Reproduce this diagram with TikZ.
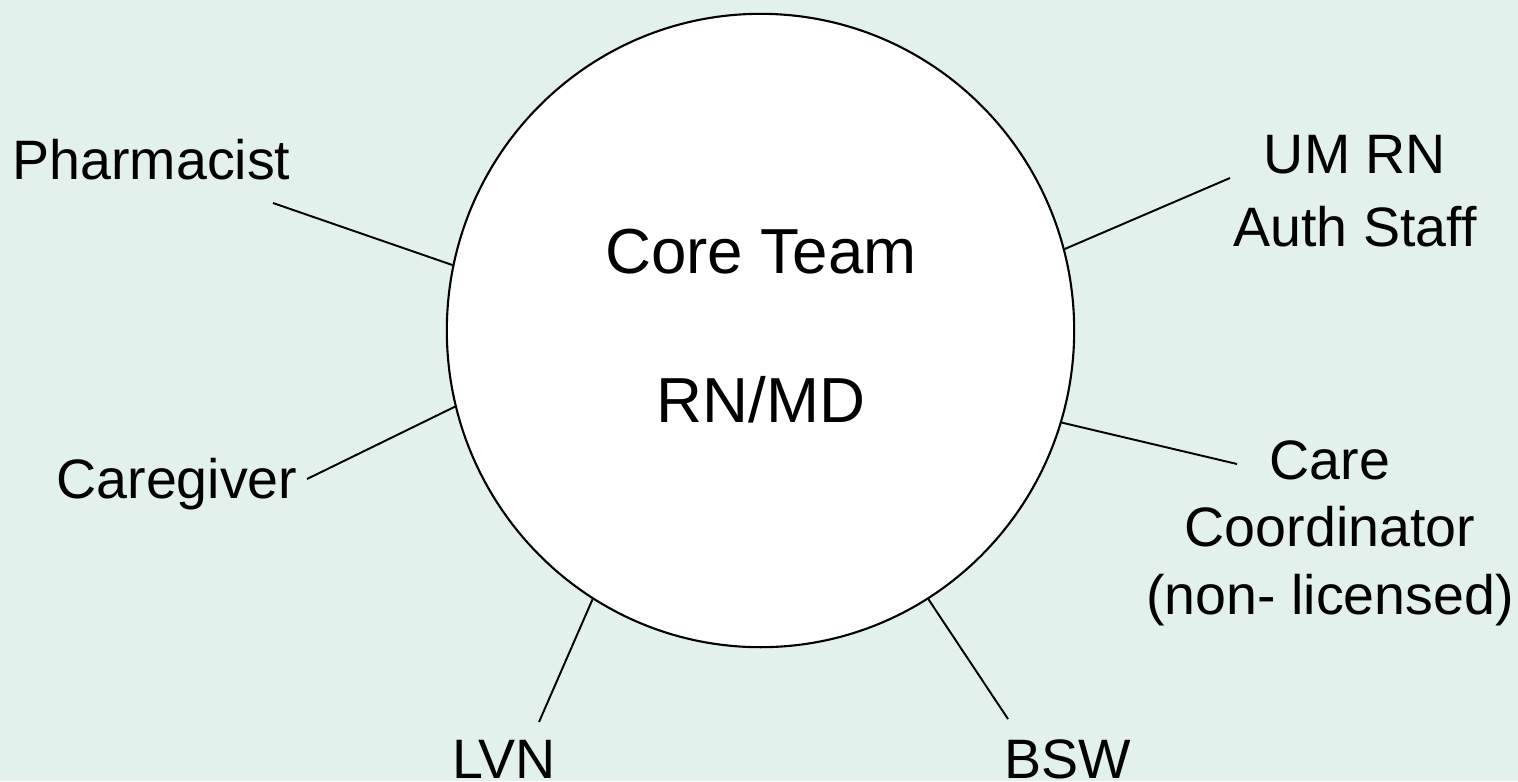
\documentclass[tikz,border=0pt]{standalone}
\usepackage{fontspec}
\setmainfont{Liberation Sans}
\usepackage{tikz}
\usetikzlibrary{shapes.geometric}
\definecolor{teamBack}{RGB}{227,241,236}

\begin{document}
\begin{tikzpicture}[x=0.01cm,y=-0.01cm,
  hub/.style={ellipse,draw,line width=0.6pt,fill=white,
    minimum width=6.27cm,minimum height=6.33cm,inner sep=0pt},
  role/.style={font=\fontsize{15.8}{20.5}\selectfont,align=center,
    inner sep=0pt,anchor=base},
  title/.style={font=\fontsize{18.1}{20}\selectfont,inner sep=0pt,anchor=base},
  spoke/.style={line width=0.55pt}]
  \fill[teamBack] (0,0) rectangle (1518,781);
  \useasboundingbox (0,0) rectangle (1518,781);

  \node[hub] (core) at (760.5,330.5) {};
  \node[title] (coreteam) at (761,273) {Core Team};
  \node[title] (rnmd) at (761,422) {RN/MD};

  \node[role] (pharm) at (151.5,179) {Pharmacist};
  \node[role] (caregiver) at (177,498) {Caregiver};
  \node[role] (umrn) at (1355,246) {UM RN\\Auth Staff};
  \node[role,font=\fontsize{15.8}{19.1}\selectfont] (carecoord) at (1330,614)
    {Care\\Coordinator\\(non- licensed)};
  \node[role] (lvn) at (504,778) {LVN};
  \node[role] (bsw) at (1067.5,778) {BSW};

  \coordinate (pharmEnd) at (273,203);
  \coordinate (caregiverEnd) at (307,479);
  \coordinate (umrnEnd) at (1230,178);
  \coordinate (carecoordEnd) at (1237,464);
  \coordinate (lvnEnd) at (539,722);
  \coordinate (bswEnd) at (1008,719);

  \draw[spoke] (core.168.3) -- (pharmEnd);
  \draw[spoke] (core.194) -- (caregiverEnd);
  \draw[spoke] (core.15.2) -- (umrnEnd);
  \draw[spoke] (core.343.1) -- (carecoordEnd);
  \draw[spoke] (core.238.1) -- (lvnEnd);
  \draw[spoke] (core.302.1) -- (bswEnd);
\end{tikzpicture}
\end{document}
